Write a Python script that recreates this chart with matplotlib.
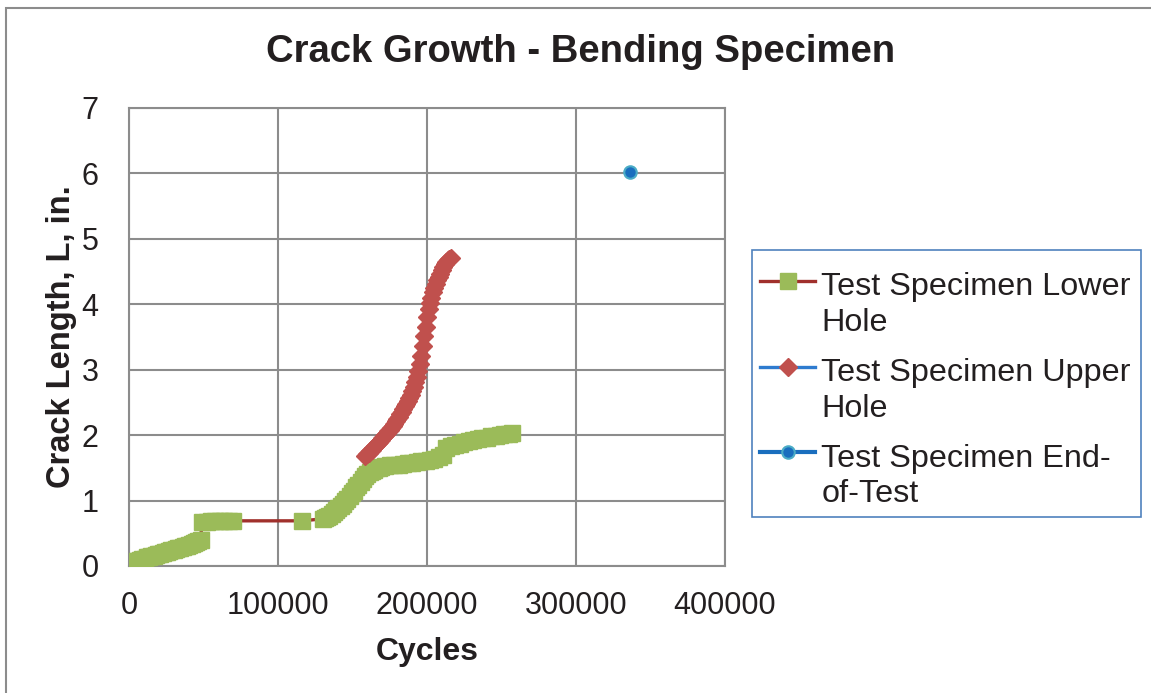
import matplotlib
matplotlib.use('Agg')
import matplotlib.pyplot as plt
from matplotlib.patches import Rectangle
from matplotlib.legend_handler import HandlerLine2D

plt.rcParams['font.family'] = ['Liberation Sans', 'DejaVu Sans']

# lower hole (cycles, crack length in.)
lower_cycles = [0, 1500, 3000, 4500, 6000, 7500, 9000, 10500, 12000, 13500,
                15000, 16500, 18000, 19500, 21000, 22500, 24000, 25500, 27000, 28500,
                30000, 31500, 33000, 34500, 36000, 37500, 39000, 40500, 42000, 43500,
                45000, 46500, 48000,
                49000, 52000, 55000, 58000, 61000, 64000, 67000, 70000,
                116000,
                130000, 131500, 133000, 134500, 136000, 137500, 139000, 140500,
                142000, 143500, 145000, 146500, 148000, 149500, 151000, 152500,
                154000, 155500, 157000, 158500, 160000, 161500, 163000, 164500,
                166000, 167500, 169000, 172000, 175000,
                178000, 181000, 184000, 187000, 190000, 193000, 196000, 199000,
                202000, 205000, 208000, 211000, 213000, 216000, 219000, 222000,
                225000, 228000, 231000, 234000, 237000, 240000, 243000, 246000,
                249000, 252000, 255000, 257000]
lower_len = [0.05, 0.05, 0.06, 0.07, 0.08, 0.09, 0.10, 0.11, 0.13, 0.14,
             0.15, 0.16, 0.17, 0.18, 0.19, 0.20, 0.21, 0.22, 0.23, 0.24,
             0.25, 0.26, 0.27, 0.28, 0.29, 0.30, 0.31, 0.32, 0.34, 0.35,
             0.37, 0.38, 0.40,
             0.67, 0.67, 0.68, 0.68, 0.68, 0.69, 0.69, 0.69,
             0.69,
             0.72, 0.73, 0.75, 0.77, 0.79, 0.82, 0.85, 0.88,
             0.92, 0.95, 0.99, 1.03, 1.07, 1.11, 1.15, 1.20,
             1.24, 1.29, 1.33, 1.37, 1.40, 1.43, 1.45, 1.47,
             1.49, 1.50, 1.51, 1.53, 1.54,
             1.55, 1.55, 1.56, 1.57, 1.58, 1.59, 1.60, 1.61,
             1.62, 1.64, 1.66, 1.70, 1.80, 1.83, 1.85, 1.87,
             1.89, 1.91, 1.93, 1.94, 1.95, 1.96, 1.98, 1.99,
             2.00, 2.01, 2.02, 2.03]

# upper hole
upper_cycles = [158500, 160000, 161000, 162000, 163000, 164000, 165000, 166000,
                167000, 168000, 169000, 170000, 171000, 172000, 173000, 174000,
                175000, 176000, 177000, 178000, 179000, 180000, 181000, 182000,
                183000, 184000, 185000, 186000, 187000, 188000, 189000, 190000,
                191000, 192000, 193000, 194000, 195000, 196000, 197000, 198000,
                199000, 200000, 201000, 202000, 203000, 204000, 205000, 206000,
                207000, 208000, 209000, 210000, 211000, 212000, 213000, 214000,
                215000, 216000]
upper_len = [1.68, 1.71, 1.73, 1.76, 1.78, 1.81, 1.83, 1.85,
             1.88, 1.90, 1.92, 1.95, 1.98, 2.00, 2.03, 2.06,
             2.08, 2.11, 2.14, 2.17, 2.21, 2.24, 2.28, 2.32,
             2.36, 2.40, 2.44, 2.48, 2.52, 2.57, 2.62, 2.68,
             2.74, 2.81, 2.89, 2.98, 3.09, 3.21, 3.36, 3.52,
             3.66, 3.80, 3.92, 4.02, 4.10, 4.18, 4.25, 4.31,
             4.37, 4.42, 4.47, 4.53, 4.57, 4.61, 4.64, 4.67,
             4.69, 4.71]

# end of test
end_cycles = [336000]
end_len = [6.02]


class TopLineHandler(HandlerLine2D):
    # put the legend handle next to the first line of a two-line label
    def create_artists(self, legend, orig_handle, xdescent, ydescent,
                       width, height, fontsize, trans):
        return super().create_artists(legend, orig_handle, xdescent,
                                      ydescent - 1.5 * fontsize, width, height,
                                      fontsize, trans)


fig = plt.figure(figsize=(11.51, 6.93), dpi=100)
ax = fig.add_axes([0.1121, 0.1833, 0.5178, 0.6609])

ax.plot(lower_cycles, lower_len, color='#A0302C', lw=2.4, marker='s', ms=11,
        mfc='#9BBB59', mec='#9BBB59', label='Test Specimen Lower\nHole', zorder=3)
ax.plot(upper_cycles, upper_len, color='#2E7BCF', lw=2.4, marker='D', ms=9.5,
        mfc='#C0504D', mec='#C0504D', label='Test Specimen Upper\nHole', zorder=4)
ax.plot(end_cycles, end_len, color='#1A6EBE', lw=3, marker='o', ms=9,
        mfc='#1A6EBE', mec='#4BACC6', mew=1.5, label='Test Specimen End-\nof-Test', zorder=5)

ax.set_xlim(0, 400000)
ax.set_ylim(0, 7)
ax.set_xticks([0, 100000, 200000, 300000, 400000])
ax.set_yticks(range(8))
ax.grid(True, color='#8C8C8C', lw=1.5)
ax.set_axisbelow(True)
for s in ax.spines.values():
    s.set_color('#8C8C8C')
    s.set_linewidth(1.5)
ax.tick_params(length=0, labelsize=22, colors='#231F20')
ax.tick_params(axis='y', pad=22)
ax.tick_params(axis='x', pad=18)

fig.text(581 / 1151, 1 - 52 / 693, 'Crack Growth - Bending Specimen', fontsize=27.5,
         fontweight='bold', color='#231F20', ha='center', va='center')
ax.set_xlabel('Cycles', fontsize=23, fontweight='bold', color='#231F20')
ax.xaxis.set_label_coords(0.5, -0.155)
ax.set_ylabel('Crack Length, L, in.', fontsize=23.5, fontweight='bold', color='#231F20')
ax.yaxis.set_label_coords(-0.088, 0.5)

leg = ax.legend(loc='upper left', bbox_to_anchor=(760 / 1151, 1 - 272 / 693),
                bbox_transform=fig.transFigure, fontsize=23.3, frameon=False,
                handlelength=1.7, handletextpad=0.2,
                labelspacing=0.62, borderpad=0, borderaxespad=0,
                handler_map={plt.Line2D: TopLineHandler()})
for t in leg.get_texts():
    t.set_color('#231F20')
    t.set_linespacing(1.25)

# legend box
fig.patches.append(Rectangle((752 / 1151, 1 - 517 / 693), 389 / 1151, 267 / 693,
                             transform=fig.transFigure, fill=False,
                             edgecolor='#4F81BD', lw=1.2))
# outer chart border
fig.patches.append(Rectangle((6 / 1151, -0.2), 1.5, 1.2 - 8 / 693, transform=fig.transFigure,
                             fill=False, edgecolor='#8C8C8C', lw=1.5))

fig.savefig('out.png', dpi=100)
